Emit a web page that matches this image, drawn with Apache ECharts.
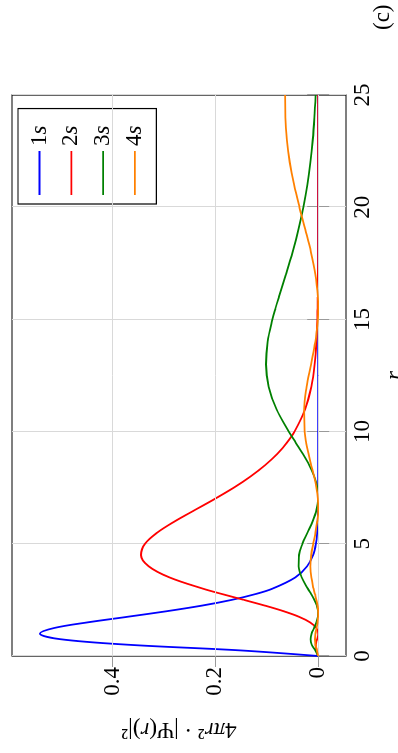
<!DOCTYPE html>
<html>
<head>
<meta charset="utf-8">
<script src="https://cdn.jsdelivr.net/npm/echarts@6/dist/echarts.min.js"></script>
<style>
  html, body { margin: 0; padding: 0; width: 398px; height: 753px; overflow: hidden; background: #fff; }
  /* The figure is laid out landscape and turned a quarter turn counter-clockwise onto the page. */
  #chart {
    position: absolute; left: 0; top: 0;
    width: 753px; height: 398px;
    transform-origin: 0 0;
    transform: translateY(753px) rotate(-90deg);
  }
</style>
</head>
<body>
<div id="chart"></div>
<script>
// Radial coordinate (Bohr radii) at which each density is sampled
const rValues = [0, 0.25, 0.5, 0.75, 1, 1.25, 1.5, 1.75, 2, 2.25, 2.5, 2.75, 3, 3.5, 4, 4.5, 5, 5.5,
  6, 6.5, 7, 7.5, 8, 8.5, 9, 9.5, 10, 11, 12, 13, 14, 15, 15.5, 16, 17, 18, 19, 20, 21, 22, 23, 24, 25];

// Radial probability density 4*pi*r^2*|psi(r)|^2 for each orbital
const prob1s = [0, 0.1516, 0.3679, 0.5020, 0.5413, 0.5130, 0.4481, 0.3699, 0.2931, 0.2250, 0.1684, 0.1236,
  0.0892, 0.0447, 0.0215, 0.0100, 0.0045, 0.0020, 0.0009, 0.0004, 0.0002, 0.0001, 0, 0, 0, 0, 0,
  0, 0, 0, 0, 0, 0, 0, 0, 0, 0, 0, 0, 0, 0, 0, 0];
const prob2s = [0, 0.0034, 0.0047, 0.0021, 0, 0.0035, 0.0157, 0.0374, 0.0677, 0.1042, 0.1443, 0.1851,
  0.2240, 0.2890, 0.3297, 0.3445, 0.3369, 0.3129, 0.2789, 0.2402, 0.2011, 0.1643, 0.1315, 0.1034, 0.0800,
  0.0610, 0.0460, 0.0253, 0.0134, 0.0069, 0.0034, 0.0017, 0.0012, 0.0008, 0.0004, 0.0002, 0.0001,
  0, 0, 0, 0, 0, 0];
const prob3s = [0, 0.0055, 0.0125, 0.0148, 0.0126, 0.0080, 0.0034, 0.0005, 0.0002, 0.0026, 0.0073, 0.0134,
  0.0201, 0.0319, 0.0382, 0.0373, 0.0306, 0.0208, 0.0109, 0.0034, 0.0001, 0.0016, 0.0076, 0.0174, 0.0297,
  0.0434, 0.0571, 0.0810, 0.0962, 0.1015, 0.0982, 0.0890, 0.0830, 0.0764, 0.0628, 0.0498, 0.0383,
  0.0287, 0.0210, 0.0151, 0.0106, 0.0074, 0.0050];
const prob4s = [0, 0.0023, 0.0052, 0.0062, 0.0052, 0.0032, 0.0013, 0.0001, 0.0002, 0.0013, 0.0034, 0.0061,
  0.0089, 0.0134, 0.0150, 0.0135, 0.0098, 0.0053, 0.0018, 0.0001, 0.0007, 0.0036, 0.0081, 0.0135, 0.0188,
  0.0233, 0.0264, 0.0275, 0.0223, 0.0138, 0.0056, 0.0007, 0, 0.0006, 0.0054, 0.0141, 0.0250,
  0.0364, 0.0469, 0.0553, 0.0610, 0.0639, 0.0642];

const orbitalNames = ['1s', '2s', '3s', '4s'];
const probTicks = [0, 0.2, 0.4];

const FONT = 'Liberation Serif';
const FRAME = '#000';
const TICK = '#9a9a9a';
const GRID = '#d9d9d9';
const COLORS = ['#0000ff', '#ff0000', '#008000', '#ff8000'];

// Value range padded by 10% of the data span on both ends
const PROB_MIN = -0.0541;
const PROB_MAX = 0.5954;

const toPairs = vals => rValues.map((r, i) => [r, vals[i]]);
const curves = [prob1s, prob2s, prob3s, prob4s];

const tickStyle = { inside: true, length: 11, lineStyle: { color: TICK, width: 1 } };
const labelStyle = { fontFamily: FONT, fontSize: 23, color: '#000' };

const chart = echarts.init(document.getElementById('chart'), null, { renderer: 'canvas' });

chart.setOption({
  animation: false,
  backgroundColor: '#fff',
  grid: {
    left: 97, right: 95, top: 12, bottom: 52,
    containLabel: false,
    outerBoundsMode: 'none',
    show: true, borderColor: FRAME, borderWidth: 1.2, backgroundColor: 'transparent'
  },
  legend: {
    data: orbitalNames,
    orient: 'vertical',
    left: 549, top: 18,
    padding: [10, 17, 10, 9],
    itemWidth: 44, itemHeight: 1.8, itemGap: 8.8,
    icon: 'rect',
    selectedMode: false,
    backgroundColor: '#fff',
    borderColor: FRAME, borderWidth: 1.2,
    formatter: n => n.charAt(0) + '{i|' + n.slice(1) + '}',
    textStyle: {
      fontFamily: FONT, fontSize: 23, lineHeight: 22, color: '#000',
      rich: { i: { fontFamily: FONT, fontSize: 23, lineHeight: 22, fontStyle: 'italic', color: '#000' } }
    }
  },
  xAxis: [
    {
      type: 'value', min: 0, max: 25, interval: 5, position: 'bottom',
      axisLine: { show: false },
      axisTick: tickStyle,
      axisLabel: Object.assign({ margin: 5 }, labelStyle),
      splitLine: { show: true, lineStyle: { color: GRID, width: 1 } },
      name: 'r', nameLocation: 'middle', nameGap: 37,
      nameTextStyle: { fontFamily: FONT, fontSize: 23, fontStyle: 'italic', color: '#000' }
    },
    {
      type: 'value', min: 0, max: 25, interval: 5, position: 'top',
      axisLine: { show: false }, axisTick: tickStyle,
      axisLabel: { show: false }, splitLine: { show: false }
    }
  ],
  yAxis: [
    {
      type: 'value', min: PROB_MIN, max: PROB_MAX, position: 'left',
      axisLine: { show: false },
      axisTick: Object.assign({ customValues: probTicks }, tickStyle),
      axisLabel: Object.assign({ margin: 11, customValues: probTicks }, labelStyle),
      splitLine: { show: false },
      name: '4{i|πr}² · |Ψ({i|r})|²', nameLocation: 'middle', nameGap: 62, nameRotate: 90,
      nameTextStyle: {
        fontFamily: FONT, fontSize: 23, color: '#000',
        rich: { i: { fontFamily: FONT, fontSize: 23, fontStyle: 'italic', color: '#000' } }
      }
    },
    {
      type: 'value', min: PROB_MIN, max: PROB_MAX, position: 'right',
      axisLine: { show: false },
      axisTick: Object.assign({ customValues: probTicks }, tickStyle),
      axisLabel: { show: false }, splitLine: { show: false }
    }
  ],
  graphic: [
    {
      type: 'text', left: 723, top: 371,
      style: { text: '(c)', fontFamily: FONT, fontSize: 23, fill: '#000' }
    }
  ],
  series: [
    {
      name: 'gridlines', type: 'line', data: [], silent: true, z: 1,
      markLine: {
        silent: true, symbol: 'none', animation: false,
        label: { show: false },
        lineStyle: { color: GRID, width: 1, type: 'solid' },
        data: probTicks.map(v => ({ yAxis: v }))
      }
    }
  ].concat(curves.map((vals, k) => ({
    name: orbitalNames[k],
    type: 'line',
    data: toPairs(vals),
    smooth: 0.35,
    symbol: 'none',
    showSymbol: false,
    z: 2 + k,
    color: COLORS[k],
    itemStyle: { color: COLORS[k] },
    lineStyle: { color: COLORS[k], width: 1.8 }
  })))
});
</script>
</body>
</html>
